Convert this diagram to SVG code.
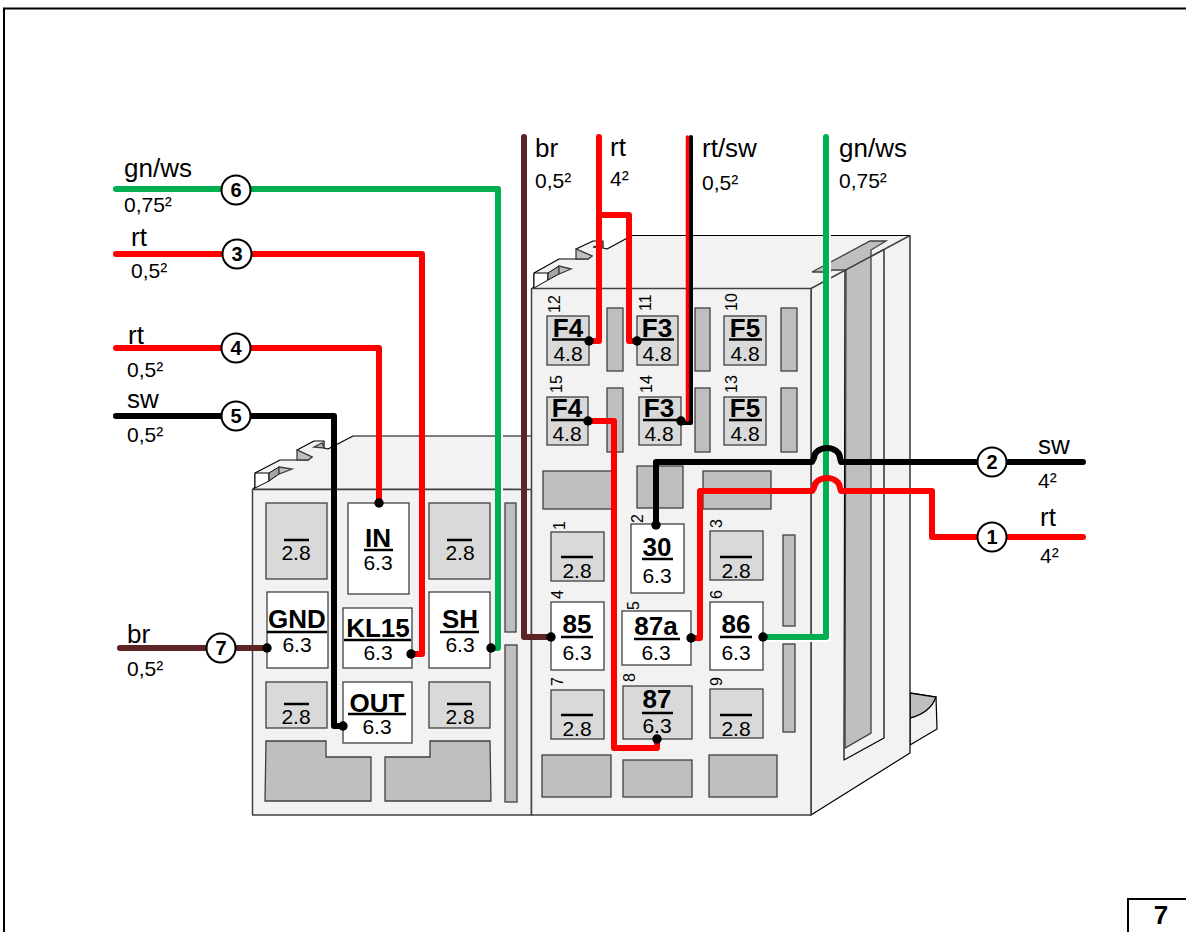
<svg xmlns="http://www.w3.org/2000/svg" width="1186" height="932" viewBox="0 0 1186 932">
<style>
text{font-family:"Liberation Sans",Arial,sans-serif;fill:#000}
.b{fill:#f2f2f2;stroke:#000;stroke-width:1.2;stroke-linejoin:round}
.e{fill:#f2f2f2;stroke:#404040;stroke-width:1.5;stroke-linejoin:round}
.g{fill:#bfbfbf;stroke:#404040;stroke-width:1.3}
.d{fill:#a6a6a6;stroke:#000;stroke-width:1}
.k{fill:#fff;stroke:#000;stroke-width:1}
.l{fill:#d9d9d9;stroke:#404040;stroke-width:1.3}
.w{fill:#fff;stroke:#404040;stroke-width:1.3}
.t{font-size:26px;font-weight:bold;text-anchor:middle}
.v{font-size:21px;text-anchor:middle}
.p{font-size:16px}
.n{font-size:26px}
.s{font-size:21px}
.bar{stroke:#000;stroke-width:2.5}
.wire{fill:none;stroke-width:6;stroke-linejoin:round;stroke-linecap:round}
.dot{fill:#000}
.c{fill:#fff;stroke:#000;stroke-width:2}
.ct{font-size:20px;font-weight:bold;text-anchor:middle}
</style>
<rect width="1186" height="932" fill="#fff"/>
<path d="M4 932V8.500H1186" fill="none" stroke="#000" stroke-width="2"/>
<g id="foot">
<path class="b" d="M910 693L936 697L937 729L910 745Z"/>
<path class="g" style="stroke:#000" d="M910 693L936 697C932 708 922 715 910 718Z"/>
</g>
<g id="block-left">
<path class="b" d="M253 489L255 487V473L280 460H308L312 457L297 450L314 441H324V448L328 449L353 436H532V489.500Z"/>
<path class="k" d="M255 473H269V481L255 488Z"/>
<path class="d" d="M269 473L279 467V474L269 481Z"/>
<path class="g" d="M279 467L292 469L279 474Z"/>
<path class="g" d="M297 450L312 457L308 460H297Z"/>
<path class="g" d="M314 447L324 448L322 443Z"/>
<rect class="e" x="252.500" y="489.500" width="279" height="325.500"/>
<rect class="l" x="266" y="503" width="61" height="76"/>
<rect class="l" x="429" y="503" width="61" height="76"/>
<rect class="g" x="505" y="503" width="11" height="129"/>
<rect class="g" x="505" y="645" width="12" height="157"/>
<rect class="l" x="266" y="682" width="61" height="46"/>
<rect class="l" x="429" y="682" width="61" height="46"/>
<path class="g" d="M266 741H326V757H371V801H265Z"/>
<path class="g" d="M385 757H430V741H490L491 801H385Z"/>
<line class="bar" x1="284" y1="540" x2="309" y2="540"/><text class="v" x="296" y="560">2.8</text>
<line class="bar" x1="447" y1="540" x2="472" y2="540"/><text class="v" x="460" y="560">2.8</text>
<line class="bar" x1="284" y1="704" x2="309" y2="704"/><text class="v" x="296" y="724">2.8</text>
<line class="bar" x1="447" y1="704" x2="472" y2="704"/><text class="v" x="460" y="724">2.8</text>
</g>
<g id="block-right">
<path class="b" d="M532 289L534 286V273L559 259H588L592 256L576 249L593 241H603V248L607 249L632 235.500H910V753L811 815V288.500Z"/>
<path class="k" d="M534 273H548V280L534 288Z"/>
<path class="d" d="M548 273L559 266V274L548 280Z"/>
<path class="g" d="M559 266L571 269L559 274Z"/>
<path class="g" d="M576 249L592 256L588 259H576Z"/>
<path class="g" d="M593 247L602 248V245Z"/>
<path class="b" d="M845 270L884 249.500V738L844 760Z"/>
<path class="g" d="M812 272L870 241H886L871 250V733L845 748L846 270H833L825 272Z"/>
<path class="e" d="M811 288.500L910 235.500"/>
<rect class="e" x="531.500" y="288.500" width="279.500" height="526.500"/>
<rect class="l" x="547" y="316" width="42" height="49"/>
<rect class="l" x="637" y="316" width="41" height="49"/>
<rect class="l" x="724" y="316" width="42" height="49"/>
<rect class="g" x="607" y="308" width="16" height="63"/>
<rect class="g" x="695" y="308" width="15" height="63"/>
<rect class="g" x="781" y="308" width="16" height="63"/>
<rect class="l" x="547" y="397" width="41" height="48"/>
<rect class="l" x="639" y="397" width="42" height="48"/>
<rect class="l" x="724" y="397" width="42" height="48"/>
<rect class="g" x="607" y="388" width="16" height="64"/>
<rect class="g" x="695" y="388" width="15" height="64"/>
<rect class="g" x="781" y="388" width="16" height="64"/>
<rect class="g" x="543" y="471" width="70" height="38"/>
<rect class="g" x="637" y="466" width="46" height="42"/>
<rect class="g" x="703" y="471" width="68" height="38"/>
<rect class="l" x="551" y="532" width="53" height="49"/>
<rect class="l" x="710" y="531" width="53" height="49"/>
<rect class="l" x="551" y="690" width="53" height="49"/>
<rect class="l" x="623" y="686" width="69" height="53"/>
<rect class="l" x="710" y="689" width="53" height="49"/>
<rect class="g" x="783" y="535" width="12" height="91"/>
<rect class="g" x="783" y="644" width="12" height="88"/>
<rect class="g" x="542" y="755" width="69" height="42"/>
<rect class="g" x="623" y="760" width="69" height="37"/>
<rect class="g" x="709" y="755" width="68" height="42"/>
<g class="p">
<text transform="translate(560 313) rotate(-90)">12</text>
<text transform="translate(651 311) rotate(-90)">11</text>
<text transform="translate(737 311) rotate(-90)">10</text>
<text transform="translate(562 393) rotate(-90)">15</text>
<text transform="translate(652 393) rotate(-90)">14</text>
<text transform="translate(737 393) rotate(-90)">13</text>
<text transform="translate(565 530) rotate(-90)">1</text>
<text transform="translate(643 523) rotate(-90)">2</text>
<text transform="translate(722 528) rotate(-90)">3</text>
<text transform="translate(563 599) rotate(-90)">4</text>
<text transform="translate(639 610) rotate(-90)">5</text>
<text transform="translate(722 599) rotate(-90)">6</text>
<text transform="translate(563 686) rotate(-90)">7</text>
<text transform="translate(635 682) rotate(-90)">8</text>
<text transform="translate(722 686) rotate(-90)">9</text>
</g>
<line class="bar" x1="561" y1="557" x2="593" y2="557"/><text class="v" x="577" y="578">2.8</text>
<line class="bar" x1="720" y1="557" x2="752" y2="557"/><text class="v" x="736" y="578">2.8</text>
<line class="bar" x1="561" y1="715" x2="593" y2="715"/><text class="v" x="577" y="736">2.8</text>
<line class="bar" x1="720" y1="715" x2="752" y2="715"/><text class="v" x="736" y="736">2.8</text>
</g>
<g id="F4-12"><text class="t" x="568" y="337">F4</text><line class="bar" x1="552" y1="339.500" x2="590" y2="339.500"/><text class="v" x="568" y="361">4.8</text></g>
<g id="F3-11"><text class="t" x="657" y="337">F3</text><line class="bar" x1="641" y1="339.500" x2="674" y2="339.500"/><text class="v" x="657" y="361">4.8</text></g>
<g id="F5-10"><text class="t" x="745" y="337">F5</text><line class="bar" x1="729" y1="339.500" x2="762" y2="339.500"/><text class="v" x="745" y="361">4.8</text></g>
<g id="F4-15"><text class="t" x="567" y="417">F4</text><line class="bar" x1="551" y1="420" x2="590" y2="420"/><text class="v" x="567" y="441">4.8</text></g>
<g id="F3-14"><text class="t" x="659" y="417">F3</text><line class="bar" x1="643" y1="420" x2="680" y2="420"/><text class="v" x="659" y="441">4.8</text></g>
<g id="F5-13"><text class="t" x="745" y="417">F5</text><line class="bar" x1="729" y1="420" x2="762" y2="420"/><text class="v" x="745" y="441">4.8</text></g>
<g id="pin-30"><rect class="w" x="631" y="524" width="53" height="69"/><text class="t" x="657" y="556">30</text><line class="bar" x1="642" y1="559" x2="673" y2="559"/><text class="v" x="657" y="583">6.3</text></g>
<g id="pin-85"><rect class="w" x="551" y="602" width="53" height="68"/><text class="t" x="577" y="633">85</text><line class="bar" x1="561" y1="637" x2="593" y2="637"/><text class="v" x="577" y="660">6.3</text></g>
<g id="pin-87a"><rect class="w" x="622" y="611" width="69" height="54"/><text class="t" x="656" y="635">87a</text><line class="bar" x1="634" y1="639" x2="680" y2="639"/><text class="v" x="656" y="660">6.3</text></g>
<g id="pin-86"><rect class="w" x="710" y="602" width="53" height="68"/><text class="t" x="736" y="633">86</text><line class="bar" x1="720" y1="637" x2="752" y2="637"/><text class="v" x="736" y="660">6.3</text></g>
<g id="pin-87"><text class="t" x="657" y="708">87</text><line class="bar" x1="642" y1="713" x2="673" y2="713"/><text class="v" x="657" y="733">6.3</text></g>
<g id="pin-IN"><rect class="w" x="348" y="503" width="61" height="91"/><text class="t" x="378" y="547">IN</text><line class="bar" x1="364" y1="550" x2="393" y2="550"/><text class="v" x="378" y="570">6.3</text></g>
<g id="pin-GND"><rect class="w" x="267" y="592" width="61" height="76"/><text class="t" x="297" y="628">GND</text><line class="bar" x1="267" y1="632" x2="327" y2="632"/><text class="v" x="297" y="652">6.3</text></g>
<g id="pin-KL15"><rect class="w" x="343" y="608" width="69" height="60"/><text class="t" x="378" y="637">KL15</text><line class="bar" x1="344" y1="640" x2="411" y2="640"/><text class="v" x="378" y="660">6.3</text></g>
<g id="pin-SH"><rect class="w" x="429" y="592" width="61" height="76"/><text class="t" x="460" y="628">SH</text><line class="bar" x1="440" y1="632" x2="479" y2="632"/><text class="v" x="460" y="652">6.3</text></g>
<g id="pin-OUT"><rect class="w" x="343" y="682" width="69" height="61"/><text class="t" x="377" y="712">OUT</text><line class="bar" x1="348" y1="714" x2="406" y2="714"/><text class="v" x="377" y="734">6.3</text></g>
<g id="connectors">
<path class="wire" stroke="#fff" transform="translate(2 2)" d="M240 189H498V648H491"/>
<path class="wire" stroke="#00b050" d="M116 189H498V648H491"/>
<path class="wire" stroke="#ff0000" d="M116 254H422V654H411"/>
<path class="wire" stroke="#ff0000" d="M116 348H379V503"/>
<path class="wire" stroke="#000" d="M116 416H334V726H343"/>
<path class="wire" stroke="#5b2525" d="M120 648H267"/>
<path class="wire" stroke="#5b2525" d="M524 137V637H551"/>
<path class="wire" stroke="#ff0000" d="M599 137V341H589"/>
<path class="wire" stroke="#ff0000" d="M599 215H629V341H637"/>
<path class="wire" stroke="#000" style="stroke-width:4" d="M691 137V423H681"/>
<path class="wire" stroke="#ff0000" style="stroke-width:3.500" d="M687.500 137V420"/>
<path class="wire" stroke="#ff0000" d="M588 421H614V748H657V739"/>
<path class="wire" stroke="#fff" transform="translate(2 2)" d="M826 137V637H763"/>
<path class="wire" stroke="#00b050" d="M826 137V637H763"/>
<path class="wire" stroke="#000" d="M1083 462H841L840 458A13 10 0 0 0 814 458L812 462H656V525"/>
<path class="wire" stroke="#ff0000" d="M1083 537H932V491H841L840 488A13 10 0 0 0 814 488L812 491H700V638H691"/>
<g class="dot">
<circle cx="379" cy="503" r="4.700"/><circle cx="411" cy="654" r="4.700"/><circle cx="491" cy="648" r="4.700"/><circle cx="343" cy="726" r="4.700"/><circle cx="267" cy="648" r="4.700"/>
<circle cx="589" cy="341" r="4.700"/><circle cx="637" cy="341" r="4.700"/><circle cx="588" cy="421" r="4.700"/><circle cx="681" cy="421" r="4.700"/>
<circle cx="656" cy="525" r="4.700"/><circle cx="551" cy="637" r="4.700"/><circle cx="691" cy="638" r="4.700"/><circle cx="763" cy="637" r="4.700"/><circle cx="657" cy="739" r="4.700"/>
</g>
</g>
<g id="badge-6"><circle class="c" cx="236" cy="190" r="14.500"/><text class="ct" x="236" y="197">6</text></g>
<g id="badge-3"><circle class="c" cx="237" cy="254" r="14.500"/><text class="ct" x="237" y="261">3</text></g>
<g id="badge-4"><circle class="c" cx="236" cy="348" r="14.500"/><text class="ct" x="236" y="355">4</text></g>
<g id="badge-5"><circle class="c" cx="236" cy="416" r="14.500"/><text class="ct" x="236" y="423">5</text></g>
<g id="badge-7"><circle class="c" cx="221" cy="648" r="14.500"/><text class="ct" x="221" y="655">7</text></g>
<g id="badge-2"><circle class="c" cx="992" cy="462" r="14.500"/><text class="ct" x="992" y="469">2</text></g>
<g id="badge-1"><circle class="c" cx="992" cy="537" r="14.500"/><text class="ct" x="992" y="544">1</text></g>
<g id="labels">
<text class="n" x="124" y="177">gn/ws</text><text class="s" x="124" y="212">0,75²</text>
<text class="n" x="131" y="246">rt</text><text class="s" x="131" y="278">0,5²</text>
<text class="n" x="128" y="344">rt</text><text class="s" x="127" y="377">0,5²</text>
<text class="n" x="127" y="408">sw</text><text class="s" x="127" y="442">0,5²</text>
<text class="n" x="127" y="643">br</text><text class="s" x="127" y="676">0,5²</text>
<text class="n" x="535" y="157">br</text><text class="s" x="535" y="188">0,5²</text>
<text class="n" x="610" y="156">rt</text><text class="s" x="610" y="186">4²</text>
<text class="n" x="702" y="157">rt/sw</text><text class="s" x="702" y="190">0,5²</text>
<text class="n" x="839" y="157">gn/ws</text><text class="s" x="839" y="188">0,75²</text>
<text class="n" x="1038" y="454">sw</text><text class="s" x="1038" y="488">4²</text>
<text class="n" x="1040" y="526">rt</text><text class="s" x="1040" y="563">4²</text>
</g>
<g id="page-number">
<rect x="1128" y="899" width="60" height="36" fill="#fff" stroke="#000" stroke-width="2"/>
<text x="1161" y="924" font-size="26" font-weight="bold" text-anchor="middle">7</text>
</g>
</svg>
